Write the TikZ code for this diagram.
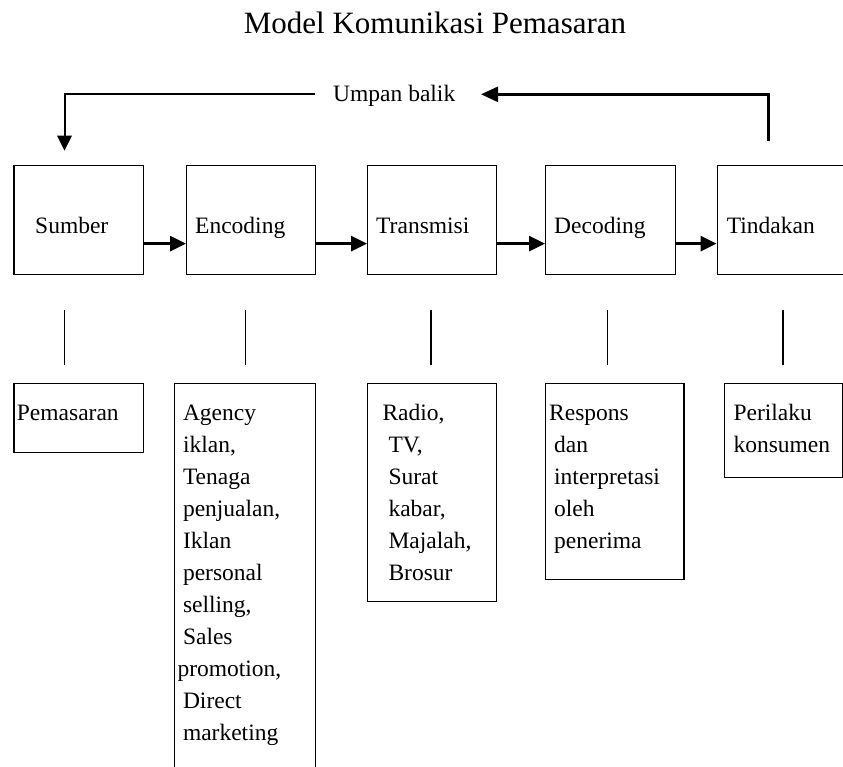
\documentclass[tikz,border=0pt]{standalone}
\usepackage{fontspec}
\setmainfont{Liberation Serif}
\usetikzlibrary{arrows.meta}
\begin{document}
\begin{tikzpicture}[x=1pt,y=-1pt,
  box/.style={draw, line width=1.4pt, inner sep=0pt, anchor=north west},
  txt/.style={inner sep=0pt, anchor=base west, align=left, font=\fontsize{23.5}{32}\selectfont},
  flow/.style={line width=3pt, -{Triangle[length=16pt,width=15pt]}},
  stem/.style={line width=1.4pt},
  fbline/.style={line width=2pt}]
\useasboundingbox (0,0) rectangle (843,767);
% title
\node[inner sep=0pt, anchor=base, font=\fontsize{31}{36}\selectfont] (title) at (435,33.3) {Model Komunikasi Pemasaran};
% top boxes
\node[box, minimum width=129.7pt, minimum height=108.7pt] (sumber) at (13.3,165) {};
\node[box, minimum width=129pt, minimum height=108.7pt] (encoding) at (186,165) {};
\node[box, minimum width=129pt, minimum height=108.7pt] (transmisi) at (367,165) {};
\node[box, minimum width=130pt, minimum height=108.7pt] (decoding) at (545,165) {};
\node[box, minimum width=132pt, minimum height=108.7pt] (tindakan) at (716.5,165) {};
\node[txt] (tsumber) at (35,234) {Sumber};
\node[txt] (tencoding) at (195,234) {Encoding};
\node[txt] (ttransmisi) at (376,234) {Transmisi};
\node[txt] (tdecoding) at (554,234) {Decoding};
\node[txt] (ttindakan) at (726.7,234) {Tindakan};
% flow arrows
\draw[flow] ([yshift=-23.6pt]sumber.east) -- ([yshift=-23.6pt]encoding.west);
\draw[flow] ([yshift=-23.6pt]encoding.east) -- ([yshift=-23.6pt]transmisi.west);
\draw[flow] ([yshift=-23.6pt]transmisi.east) -- ([yshift=-23.6pt]decoding.west);
\draw[flow] ([yshift=-23.6pt]decoding.east) -- ([yshift=-23.6pt]tindakan.west);
% feedback
\node[txt, anchor=base west, font=\fontsize{23.5}{28}\selectfont] (umpan) at (333,102) {Umpan balik};
\coordinate (fbR) at (768.3,141);
\coordinate (fbTip) at (481,94.3);
\coordinate (fbL) at (314.5,94.3);
\coordinate (fbDown) at (64.5,150.7);
\draw[line width=2.5pt, -{Triangle[length=17pt,width=15pt]}] (fbR) |- (fbTip);
\draw[fbline, -{Triangle[length=15pt,width=14.5pt]}] (fbL) -| (fbDown);
% stems
\coordinate (s1a) at (64.5,310); \coordinate (s1b) at (64.5,365);
\coordinate (s2a) at (245.7,310); \coordinate (s2b) at (245.7,365);
\coordinate (s3a) at (431,310); \coordinate (s3b) at (431,365);
\coordinate (s4a) at (607.5,310); \coordinate (s4b) at (607.5,365);
\coordinate (s5a) at (783,310); \coordinate (s5b) at (783,365);
\draw[stem] (s1a) -- (s1b);
\draw[stem] (s2a) -- (s2b);
\draw[stem] (s3a) -- (s3b);
\draw[stem] (s4a) -- (s4b);
\draw[stem] (s5a) -- (s5b);
% bottom boxes
\node[box, minimum width=129.7pt, minimum height=69pt] (pemasaran) at (13.3,383) {};
\node[box, minimum width=141pt, minimum height=392pt] (agency) at (174,383) {};
\node[box, minimum width=128.7pt, minimum height=217.7pt] (media) at (367,383) {};
\node[box, minimum width=138.3pt, minimum height=196pt] (respons) at (545,383) {};
\node[box, minimum width=118pt, minimum height=94pt] (perilaku) at (724,383) {};
% multi-line nodes: base anchor = baseline of last line (first baseline 420, step 32)
\node[txt] (tpemasaran) at (16.7,420) {Pemasaran};
\node[txt] (tagency) at (177.3,740) {\hspace*{5.5pt}Agency\\\hspace*{5.5pt}iklan,\\\hspace*{5.5pt}Tenaga\\\hspace*{5.5pt}penjualan,\\\hspace*{5.5pt}Iklan\\\hspace*{5.5pt}personal\\\hspace*{5.5pt}selling,\\\hspace*{5.5pt}Sales\\promotion,\\\hspace*{5.5pt}Direct\\\hspace*{5.5pt}marketing};
\node[txt] (tmedia) at (382.3,580) {Radio,\\\hspace*{6pt}TV,\\\hspace*{6pt}Surat\\\hspace*{6pt}kabar,\\\hspace*{6pt}Majalah,\\\hspace*{6pt}Brosur};
\node[txt] (trespons) at (549,548) {Respons\\\hspace*{5pt}dan\\\hspace*{5pt}interpretasi\\\hspace*{5pt}oleh\\\hspace*{5pt}penerima};
\node[txt] (tperilaku) at (733.3,452) {Perilaku\\konsumen};
\end{tikzpicture}
\end{document}
